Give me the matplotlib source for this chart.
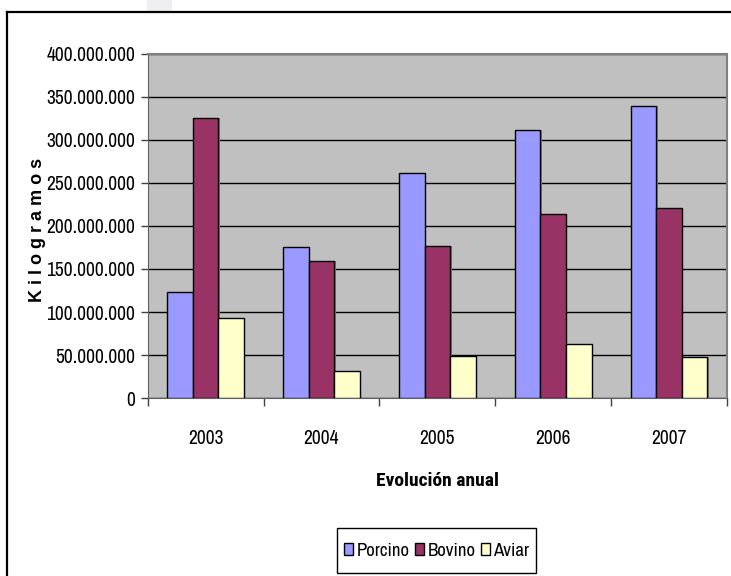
import matplotlib
matplotlib.use("Agg")
import matplotlib.pyplot as plt
import numpy as np
from matplotlib.ticker import FuncFormatter, FixedLocator
from matplotlib.patches import Rectangle
from matplotlib.lines import Line2D

plt.rcParams['font.family'] = ['Archivo Narrow', 'Liberation Sans', 'DejaVu Sans']
BOLD_FAMILY = ['Roboto Condensed', 'Liberation Sans', 'DejaVu Sans']

years = ["2003", "2004", "2005", "2006", "2007"]
porcino = [123_000_000, 175_000_000, 261_000_000, 311_000_000, 339_000_000]
bovino = [325_000_000, 159_000_000, 177_000_000, 213_500_000, 220_500_000]
aviar = [93_000_000, 32_000_000, 49_000_000, 63_000_000, 48_000_000]

series = [("Porcino", porcino, "#9999FF"),
          ("Bovino", bovino, "#993366"),
          ("Aviar", aviar, "#FFFFCC")]

W, H = 731, 576
fig = plt.figure(figsize=(W / 100, H / 100), dpi=100)
fig.patch.set_facecolor("white")

# faint tab at the top edge
fig.add_artist(Rectangle((147 / W, 1 - 11 / H), 25 / W, 11 / H,
                         transform=fig.transFigure, facecolor="#EFEEF3",
                         edgecolor="none"))
# chart frame (top and left edges)
fig.add_artist(Line2D([7 / W, 1.0], [1 - 12 / H, 1 - 12 / H],
                      transform=fig.transFigure, color="black", lw=1.6))
fig.add_artist(Line2D([7 / W, 7 / W], [0.0, 1 - 12 / H],
                      transform=fig.transFigure, color="black", lw=1.6))

left, right, top, bottom = 147.7, 727.0, 53.5, 398.3
ax = fig.add_axes([left / W, 1 - bottom / H, (right - left) / W, (bottom - top) / H])
ax.set_facecolor("#C0C0C0")

n = len(years)
x = np.arange(n)
bw = 0.221
for i, (name, vals, col) in enumerate(series):
    # soft drop shadow, then the bar
    ax.bar(x + (i - 1) * bw + 0.012, vals, width=bw, color="#808080",
           linewidth=0, zorder=2.5)
    ax.bar(x + (i - 1) * bw, vals, width=bw, color=col, edgecolor="black",
           linewidth=1.0, label=name, zorder=3)

ax.set_xlim(-0.5, n - 0.5)
ax.set_ylim(0, 400_000_000)
ax.set_yticks(np.arange(0, 400_000_001, 50_000_000))
ax.yaxis.set_major_formatter(FuncFormatter(lambda v, p: f"{int(v):,}".replace(",", ".")))
ax.grid(axis="y", color="black", linewidth=1.0, zorder=1)

ax.xaxis.set_major_locator(FixedLocator(np.arange(-0.5, n, 1.0)))
ax.xaxis.set_minor_locator(FixedLocator(x))
ax.set_xticklabels([""] * (n + 1))
ax.set_xticklabels(years, minor=True)
ax.tick_params(axis="x", which="major", length=6, width=1, color="#404040", direction="out")
ax.tick_params(axis="x", which="minor", length=0, pad=22, labelsize=14)
ax.tick_params(axis="y", length=5, width=1, color="#404040", direction="out",
               labelsize=14, pad=4)

for s in ["top", "right"]:
    ax.spines[s].set_color("#808080")
    ax.spines[s].set_linewidth(1.5)
ax.spines["left"].set_color("#606060")
ax.spines["bottom"].set_color("#606060")

fig.text(38 / W, 1 - 230 / H, "K i l o g r a m o s", rotation=90,
         ha="center", va="center", fontsize=13, fontweight="bold",
         family=["Liberation Sans", "DejaVu Sans"])
fig.text(437 / W, 1 - 481 / H, "Evolución anual", ha="center", va="center",
         fontsize=14, fontweight="bold", family=BOLD_FAMILY)

# legend box drawn separately so its padding can be set exactly
fig.add_artist(Rectangle((337 / W, 1 - 573 / H), 199 / W, 45 / H,
                         transform=fig.transFigure, facecolor="white",
                         edgecolor="black", linewidth=1.0, zorder=4))
leg = fig.legend(loc="center", bbox_to_anchor=(436.5 / W, 1 - 550.5 / H), ncol=3,
                 fontsize=13.5, frameon=False, handlelength=0.48,
                 handleheight=0.65, handletextpad=0.2, columnspacing=0.28,
                 borderpad=0.2)
leg.set_zorder(5)

fig.savefig("out.png", dpi=100)
